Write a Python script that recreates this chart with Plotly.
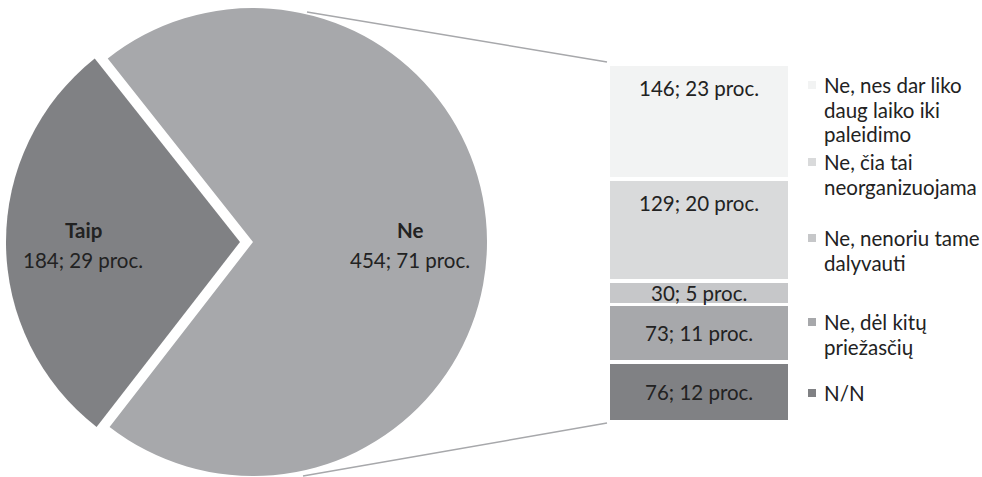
import plotly.graph_objects as go

W, H = 982, 477

# ---- data ----
pie_labels = ["Taip", "Ne"]
pie_values = [184, 454]
pie_pct = [29, 71]
pie_colors = ["#808184", "#a7a8ab"]

bar_labels = ["Ne, nes dar liko<br>daug laiko iki<br>paleidimo",
              "Ne, čia tai<br>neorganizuojama",
              "Ne, nenoriu tame<br>dalyvauti",
              "Ne, dėl kitų<br>priežasčių",
              "N/N"]
bar_values = [146, 129, 30, 73, 76]
bar_pct = [23, 20, 5, 11, 12]
bar_colors = ["#f2f3f3", "#d9dadb", "#c6c7c9", "#a7a8ab", "#808184"]

FONT = "Lato"
FS = 20.5
TXT = "#222222"

def px(x):
    return x / W

def py(y):
    return 1 - y / H

fig = go.Figure()

# pie geometry (pixels)
cx, cy, R = 253, 242, 234
pull_px = 13
rotation = 270 - pie_pct[0] * 3.6 / 2

def pie_trace(colors, dx):
    return go.Pie(
        labels=pie_labels, values=pie_values, sort=False, direction="clockwise",
        rotation=rotation, textinfo="none", hoverinfo="label+value+percent",
        marker=dict(colors=colors, line=dict(width=0)),
        domain=dict(x=[px(cx - R + dx), px(cx + R + dx)], y=[py(cy + R), py(cy - R)]),
        showlegend=False,
    )

fig.add_trace(pie_trace(["rgba(0,0,0,0)", pie_colors[1]], 0))
fig.add_trace(pie_trace([pie_colors[0], "rgba(0,0,0,0)"], -pull_px))

# stacked bar (bottom to top: reverse order)
bar_top, bar_bot, bar_l, bar_r = 64, 422, 610, 788
total = sum(bar_values)
for lab, v, c in list(zip(bar_labels, bar_values, bar_colors))[::-1]:
    fig.add_trace(go.Bar(
        x=[0], y=[v], name=lab.replace("<br>", " "), marker=dict(color=c, line=dict(color="white", width=3.5)),
        width=1.03, showlegend=False, textposition="none",
    ))

fig.update_layout(
    barmode="stack",
    width=W, height=H, margin=dict(l=0, r=0, t=0, b=0),
    paper_bgcolor="white", plot_bgcolor="white",
    font=dict(family=FONT, size=FS, color=TXT),
    xaxis=dict(domain=[px(bar_l), px(bar_r)], range=[-0.5, 0.5], visible=False, fixedrange=True),
    yaxis=dict(domain=[py(bar_bot), py(bar_top)], range=[0, total], visible=False, fixedrange=True),
)

annos = []
# bar labels
cum = 0
mids = []
for v in bar_values[::-1]:
    mids.append((cum, cum + v))
    cum += v
mids = mids[::-1]
for i, (v, p) in enumerate(zip(bar_values, bar_pct)):
    lo, hi = mids[i]
    if i < 2:
        annos.append(dict(x=0, y=hi, xref="x", yref="y", yshift=-24, yanchor="middle",
                          text=f"{v}; {p} proc.", showarrow=False))
    else:
        annos.append(dict(x=0, y=(lo + hi) / 2, xref="x", yref="y", yanchor="middle",
                          text=f"{v}; {p} proc.", showarrow=False))

# pie labels
pie_label_x = [83, 410]
for lab, v, p, lx in zip(pie_labels, pie_values, pie_pct, pie_label_x):
    annos.append(dict(x=px(lx), y=py(230), xref="paper", yref="paper", text=f"<b>{lab}</b>",
                      showarrow=False, xanchor="center", yanchor="middle"))
    annos.append(dict(x=px(lx), y=py(260), xref="paper", yref="paper", text=f"{v}; {p} proc.",
                      showarrow=False, xanchor="center", yanchor="middle"))

# custom legend
leg_y = [85, 162, 238, 322, 393]
line_h = 24.5
shapes = []
for lab, c, y0 in zip(bar_labels, bar_colors, leg_y):
    for j, line in enumerate(lab.split("<br>")):
        annos.append(dict(x=px(822), y=py(y0 + j * line_h), xref="paper", yref="paper", text=line,
                          showarrow=False, xanchor="left", yanchor="middle"))
    shapes.append(dict(type="rect", xref="paper", yref="paper", x0=px(808), x1=px(816),
                       y0=py(y0 + 4), y1=py(y0 - 4), fillcolor=c, line=dict(width=0)))

# connector lines
shapes.append(dict(type="line", xref="paper", yref="paper", x0=px(307), y0=py(12),
                   x1=px(bar_l - 3), y1=py(bar_top - 2), line=dict(color="#a7a8ab", width=1.5)))
shapes.append(dict(type="line", xref="paper", yref="paper", x0=px(303), y0=py(476),
                   x1=px(bar_l - 3), y1=py(bar_bot + 1), line=dict(color="#a7a8ab", width=1.5)))

fig.update_layout(annotations=annos, shapes=shapes)
fig.write_html("out.html", config={"displayModeBar": False},
               post_script="document.body.style.margin='0';document.body.style.overflow='hidden';")
